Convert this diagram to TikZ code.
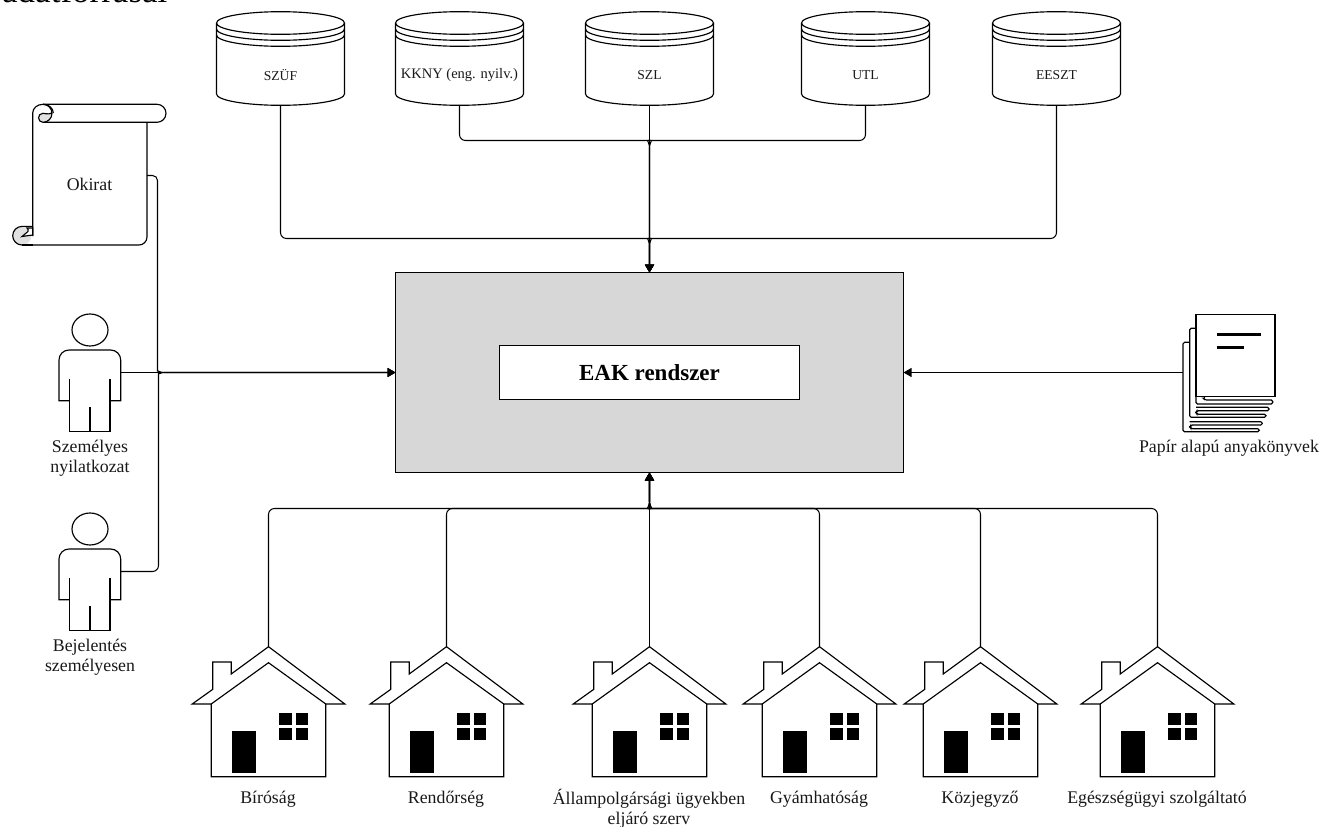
\documentclass[tikz,border=0pt]{standalone}
\usepackage{fontspec}
\setmainfont{Liberation Serif}
\usetikzlibrary{arrows.meta}
\definecolor{boxgray}{RGB}{215,215,215}
\definecolor{curlgray}{RGB}{225,225,225}
\tikzset{
  shapeline/.style={draw=black,line width=1.15pt,line join=miter},
  conn/.style={draw=black,line width=1.05pt,-{Triangle[length=8pt,width=9pt]}},
  anchorbox/.style={inner sep=0pt,outer sep=0pt,minimum width=#1},
  lab/.style={font=\fontsize{17.8}{20}\selectfont,align=center,inner sep=0pt,text=black!90},
  dblab/.style={font=\fontsize{13.6}{16}\selectfont,inner sep=0pt,text=black!90}
}
\newcommand{\dbcyl}[3]{%
  \begin{scope}[shift={(#2,0)}]
    \draw[shapeline] (-64,23) arc[start angle=180,end angle=-180,x radius=64,y radius=11.3];
    \draw[shapeline] (-64,23) -- (-64,94) arc[start angle=180,end angle=0,x radius=64,y radius=11.3] -- (64,23);
    \draw[shapeline] (-64,29) arc[start angle=180,end angle=0,x radius=64,y radius=11.3];
    \draw[shapeline] (-64,35) arc[start angle=180,end angle=0,x radius=64,y radius=11.3];
    \node[anchorbox=128pt,minimum height=93pt] (#1) at (0,58.7) {};
    \node[dblab] (#1-l) at (0,75) {#3};
  \end{scope}}
\newcommand{\house}[2]{%
  \begin{scope}[shift={(#2,0)}]
    \draw[shapeline] (0,646.7) -- (76.3,704) -- (57.3,704) -- (57.3,776.7) -- (-57.3,776.7) -- (-57.3,704) -- (-76.3,704) -- (-55.7,689.3) -- (-55.7,662) -- (-37.3,662) -- (-37.3,674) -- cycle;
    \draw[shapeline] (-57.3,704) -- (0,662.7) -- (57.3,704);
    \fill[black] (-37,731.3) rectangle (-13,773.3);
    \fill[black] (10.7,712.7) rectangle (23.3,724.7);
    \fill[black] (27,712.7) rectangle (39.7,724.7);
    \fill[black] (10.7,727.7) rectangle (23.3,740);
    \fill[black] (27,727.7) rectangle (39.7,740);
    \node[anchorbox=152pt,minimum height=130pt] (#1) at (0,711.7) {};
  \end{scope}}
\newcommand{\person}[3]{%
  \begin{scope}[shift={(0,#2)}]
    \draw[shapeline] (90,330) ellipse[x radius=18,y radius=16];
    \draw[shapeline] (69.3,400.7) -- (59,400.7) [rounded corners=10pt] -- (59,350) -- (120.7,350) [sharp corners] -- (120.7,400.7) -- (110,400.7);
    \draw[shapeline] (69.3,379.3) -- (69.3,431.7) -- (110,431.7) -- (110,379.3);
    \draw[shapeline] (90,407) -- (90,431.7);
    \node[anchorbox=61.7pt,minimum height=118pt] (#1) at (89.85,372.5) {};
    \node[lab] (#1-l) at (90,458) {#3};
  \end{scope}}
\begin{document}
\begin{tikzpicture}[x=1pt,y=-1pt]
\useasboundingbox (0,0) rectangle (1323,827);
\fill[white] (0,0) rectangle (1323,827);
\begin{scope}
  \clip (0,0) rectangle (1323,827);
  \node[anchor=base west,inner sep=0pt,font=\fontsize{35}{36}\selectfont] (heading) at (2,2.5) {adatforrásai};
\end{scope}

% databases
\dbcyl{szuf}{280.5}{SZÜF}
\dbcyl{kkny}{459.5}{\fontsize{14.5}{16}\selectfont KKNY (eng. nyilv.)}
\dbcyl{szl}{649.5}{SZL}
\dbcyl{utl}{865.5}{UTL}
\dbcyl{eeszt}{1056.5}{EESZT}

% main box
\node[shapeline,fill=boxgray,minimum width=508pt,minimum height=200pt,inner sep=0pt,outer sep=0pt] (main) at (649.5,372.5) {};
\node[shapeline,fill=white,minimum width=300pt,minimum height=54pt,inner sep=0pt,outer sep=0pt,font=\bfseries\fontsize{23}{26}\selectfont] (eak) at (649.5,372.5) {EAK rendszer};

% scroll
\node[anchorbox=114pt,minimum height=141pt] (okirat) at (90,175.5) {};
\draw[shapeline] (43,104.3) -- (157,104.3) arc[start angle=-90,end angle=90,radius=9] -- (43,122.3);
\fill[curlgray] (52,113) arc[start angle=0,end angle=90,radius=9] arc[start angle=90,end angle=270,radius=4.5] .. controls (43,113) and (48,115) .. (52,113) -- cycle;
\draw[shapeline] (32.7,236) -- (32.7,113) arc[start angle=180,end angle=360,x radius=10.3,y radius=8.7];
\draw[shapeline] (43,104.3) arc[start angle=-90,end angle=90,radius=9] arc[start angle=90,end angle=270,radius=4.5] .. controls (43,113) and (48,115) .. (52,113);
\draw[shapeline,rounded corners=8pt] (147,122.3) -- (147,245) -- (22,245);
\fill[curlgray] (22,245) arc[start angle=90,end angle=450,radius=9.3];
\draw[shapeline] (22,245) arc[start angle=90,end angle=270,radius=9.3] -- (32.7,226.4);
\draw[shapeline] (22,245) -- (32.7,245);
\draw[shapeline,fill=white] (32.7,228) -- (27,228) arc[start angle=-60,end angle=60,radius=2.5] -- (22,236.5) -- (32.7,235) -- cycle;
\node[lab] (okirat-l) at (89.5,184) {Okirat};

% persons
\person{szem}{0}{Személyes\\nyilatkozat}
\person{bej}{199}{Bejelentés\\személyesen}

% houses
\house{birosag}{268.5}
\house{rendor}{446.5}
\house{allam}{649.5}
\house{gyam}{819.5}
\house{kozj}{980.5}
\house{egesz}{1157.5}
\node[lab] (birosag-l) at (268,799) {Bíróság};
\node[lab] (rendor-l) at (446,799) {Rendőrség};
\node[lab] (allam-l) at (649,809) {Állampolgársági ügyekben\\eljáró szerv};
\node[lab] (gyam-l) at (819,799) {Gyámhatóság};
\node[lab] (kozj-l) at (980,799) {Közjegyző};
\node[lab] (egesz-l) at (1157,799) {Egészségügyi szolgáltató};

% stacked paper
\node[anchorbox=92pt,minimum height=117pt] (paper) at (1229,372.5) {};
\draw[shapeline] (1196,314.7) rectangle (1275,396.7);
\draw[shapeline,line width=2.6pt] (1216.7,334.7) -- (1260.7,334.7);
\draw[shapeline,line width=2.6pt] (1216.7,347.3) -- (1244,347.3);
\draw[shapeline,rounded corners=1.5pt] (1196,396.7) -- (1196,404) -- (1272.7,404) -- (1272.7,400) -- (1205,400) -- (1203,398) -- (1205,396.7);
\draw[shapeline,rounded corners=1.5pt] (1196,328.3) -- (1189.7,328.3) -- (1189.7,417.3) -- (1266,417.3) -- (1266,414.3) -- (1197,414.3) -- (1196,412.5) -- (1197,410.7) -- (1269,410.7) -- (1269,407.3) -- (1196,407.3);
\draw[shapeline,rounded corners=1.5pt] (1189.7,342.3) -- (1183,342.3) -- (1183,431.7) -- (1259.3,431.7) -- (1259.3,428.7) -- (1191,428.7) -- (1190,427) -- (1191,425) -- (1262.3,425) -- (1262.3,421.7) -- (1189.7,421.7);
\node[lab] (paper-l) at (1229,448) {Papír alapú anyakönyvek};

% connectors: top
\coordinate (tl1) at (642.5,140.5);
\coordinate (tr1) at (656.5,140.5);
\coordinate (tl2) at (642.5,238.5);
\coordinate (tr2) at (656.5,238.5);
\coordinate (tm1) at (649.5,147);
\coordinate (tm2) at (649.5,245);
\draw[conn] (szl.south) -- (main.north);
\draw[conn] (kkny.south) [rounded corners=6pt] |- (tl1) [sharp corners] .. controls (646.5,140.5) and (649,142) .. (tm1) -- (main.north);
\draw[conn] (utl.south) [rounded corners=6pt] |- (tr1) [sharp corners] .. controls (652.5,140.5) and (650,142) .. (tm1) -- (main.north);
\draw[conn] (szuf.south) [rounded corners=6pt] |- (tl2) [sharp corners] .. controls (646.5,238.5) and (649,240) .. (tm2) -- (main.north);
\draw[conn] (eeszt.south) [rounded corners=6pt] |- (tr2) [sharp corners] .. controls (652.5,238.5) and (650,240) .. (tm2) -- (main.north);

% connectors: left
\coordinate (lu) at (157.5,366);
\coordinate (ld) at (158.5,379);
\coordinate (lm) at (164,372.5);
\draw[conn] (okirat.east) [rounded corners=5pt] -| (lu) [sharp corners] .. controls (157.5,370) and (159.5,372.5) .. (lm) -- (main.west);
\draw[conn] (szem.east) -- (main.west);
\draw[conn] (bej.east) [rounded corners=6pt] -| (ld) [sharp corners] .. controls (158.5,375) and (160.5,372.5) .. (lm) -- (main.west);

% connector: right
\draw[conn] (paper.west) -- (main.east);

% connectors: bottom
\coordinate (bl) at (642.5,508.5);
\coordinate (br) at (656.5,508.5);
\coordinate (bm) at (649.5,502);
\draw[conn] (allam.north) -- (main.south);
\draw[conn] (birosag.north) [rounded corners=6pt] |- (bl) [sharp corners] .. controls (646.5,508.5) and (649,507) .. (bm) -- (main.south);
\draw[conn] (rendor.north) [rounded corners=6pt] |- (bl) [sharp corners] .. controls (646.5,508.5) and (649,507) .. (bm) -- (main.south);
\draw[conn] (gyam.north) [rounded corners=6pt] |- (br) [sharp corners] .. controls (652.5,508.5) and (650,507) .. (bm) -- (main.south);
\draw[conn] (kozj.north) [rounded corners=6pt] |- (br) [sharp corners] .. controls (652.5,508.5) and (650,507) .. (bm) -- (main.south);
\draw[conn] (egesz.north) [rounded corners=6pt] |- (br) [sharp corners] .. controls (652.5,508.5) and (650,507) .. (bm) -- (main.south);
\end{tikzpicture}
\end{document}
